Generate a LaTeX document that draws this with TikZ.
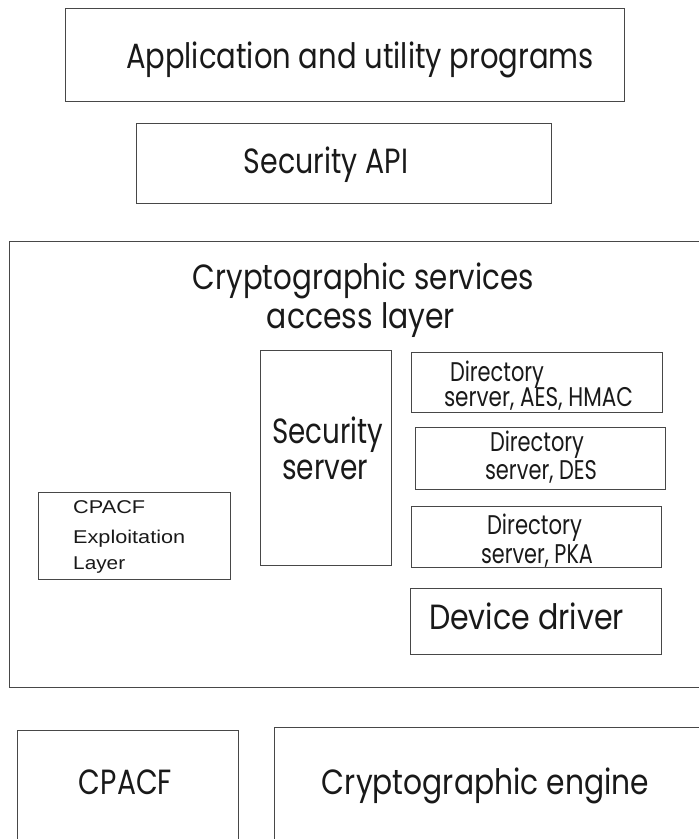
\documentclass[tikz,border=0pt]{standalone}
\usepackage{fontspec}
\usepackage{graphicx}
\setmainfont{Poppins}
\newfontfamily\arialf{Liberation Sans}
\newcommand{\labw}[3]{\resizebox{#1}{\height}{\fontsize{#2}{#2}\selectfont #3}}
\begin{document}
\begin{tikzpicture}[x=1pt,y=-1pt,
  box/.style={draw=black!72, line width=1.4pt, inner sep=0pt, anchor=north west},
  lbl/.style={inner sep=0pt, anchor=base, text=black!90},
  lbll/.style={inner sep=0pt, anchor=base west, text=black!90, font=\arialf\fontsize{18.5}{18.5}\selectfont},
]
\useasboundingbox (0,0) rectangle (699,839);
% boxes
\node[box, minimum width=559pt, minimum height=93pt] (app) at (65,8) {};
\node[box, minimum width=415pt, minimum height=80pt] (api) at (136,123) {};
\node[box, minimum width=700pt, minimum height=446pt] (csal) at (9,241) {};
\node[box, minimum width=131pt, minimum height=215pt] (secsrv) at (260,350) {};
\node[box, minimum width=251pt, minimum height=60pt] (dirA) at (411,352) {};
\node[box, minimum width=250pt, minimum height=62pt] (dirD) at (415,427) {};
\node[box, minimum width=250pt, minimum height=61pt] (dirP) at (411,506) {};
\node[box, minimum width=251pt, minimum height=66pt] (dev) at (410,588) {};
\node[box, minimum width=192pt, minimum height=87pt] (cel) at (38,492) {};
\node[box, minimum width=221pt, minimum height=130pt] (cpacf) at (17,730) {};
\node[box, minimum width=440pt, minimum height=130pt] (engine) at (274,727) {};
% labels
\node[lbl] (tApp) at (360,68) {\labw{468pt}{35}{Application and utility programs}};
\node[lbl] (tApi) at (326,173) {\labw{164pt}{35}{Security API}};
\node[lbl] (tCs1) at (363.5,289) {\labw{341pt}{35}{Cryptographic services}};
\node[lbl] (tCs2) at (361,328) {\labw{188pt}{35}{access layer}};
\node[lbl] (tSec1) at (327.5,443) {\labw{111pt}{35}{Security}};
\node[lbl] (tSec2) at (325,479) {\labw{86pt}{35}{server}};
\node[lbl] (tA1) at (497,381) {\labw{94pt}{27}{Directory}};
\node[lbl] (tA2) at (538.5,406) {\labw{189pt}{27}{server, AES, HMAC}};
\node[lbl] (tD1) at (537,451) {\labw{94pt}{27}{Directory}};
\node[lbl] (tD2) at (541,479) {\labw{112pt}{27}{server, DES}};
\node[lbl] (tP1) at (534.5,534) {\labw{95pt}{27}{Directory}};
\node[lbl] (tP2) at (537,563) {\labw{112pt}{27}{server, PKA}};
\node[lbl] (tDev) at (526.5,629) {\labw{195pt}{35}{Device driver}};
\node[lbll] (tC1) at (73,513) {\resizebox{72pt}{\height}{CPACF}};
\node[lbll] (tC2) at (73,543) {\resizebox{112pt}{\height}{Exploitation}};
\node[lbll] (tC3) at (73,569) {\resizebox{52pt}{\height}{Layer}};
\node[lbl] (tCp) at (125.5,794) {\labw{93pt}{35}{CPACF}};
\node[lbl] (tEng) at (485.5,794) {\labw{327pt}{35}{Cryptographic engine}};
\end{tikzpicture}
\end{document}
